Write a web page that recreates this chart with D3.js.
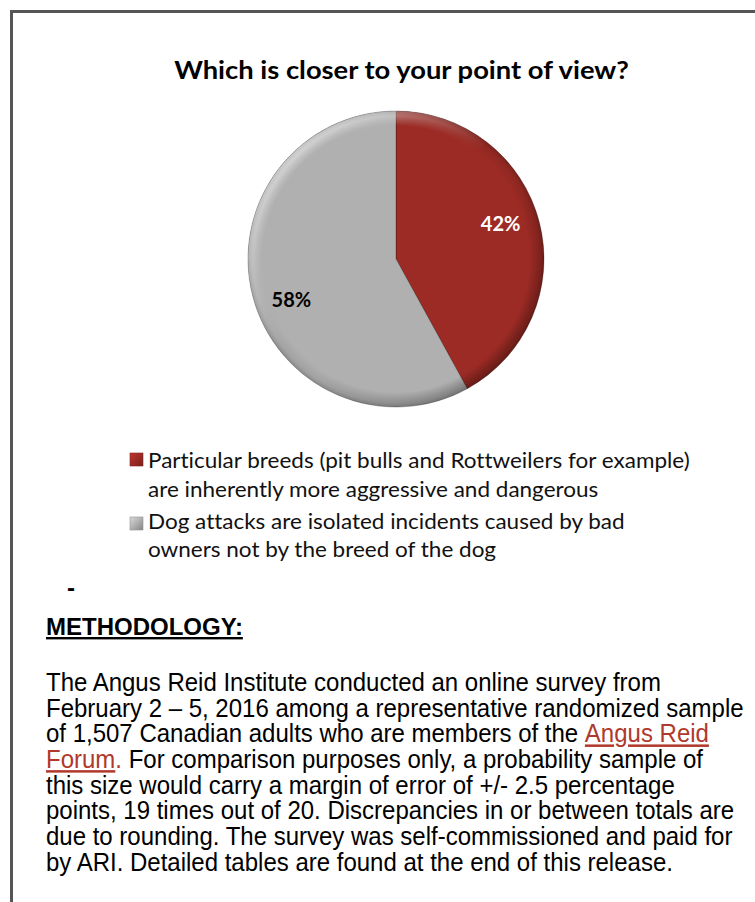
<!DOCTYPE html>
<html>
<head>
<meta charset="utf-8">
<script src="https://cdn.jsdelivr.net/npm/d3@7"></script>
<style>
  html, body { margin: 0; padding: 0; background: #fff; overflow: hidden; }
  svg { display: block; }
  text { font-variant-ligatures: none; font-feature-settings: "liga" 0, "clig" 0; }
</style>
</head>
<body>
<svg id="chart" width="755" height="902"></svg>
<script>
// ---- data ----
const title = "Which is closer to your point of view?";
const categories = [
  "Particular breeds (pit bulls and Rottweilers for example) are inherently more aggressive and dangerous",
  "Dog attacks are isolated incidents caused by bad owners not by the breed of the dog"
];
const legendLines = [
  ["Particular breeds (pit bulls and Rottweilers for example)", "are inherently more aggressive and dangerous"],
  ["Dog attacks are isolated incidents caused by bad", "owners not by the breed of the dog"]
];
const values = [42, 58];
const valueLabels = ["42%", "58%"];
const sliceColors = ["#9d2b25", "#b0b0b0"];
const labelColors = ["#ffffff", "#000000"];

const methodologyHeading = "METHODOLOGY:";
const methodologyLines = [
  [{ t: "The Angus Reid Institute conducted an online survey from" }],
  [{ t: "February 2 \u2013 5, 2016 among a representative randomized sample" }],
  [{ t: "of 1,507 Canadian adults who are members of the " }, { t: "Angus Reid", link: true }],
  [{ t: "Forum", link: true }, { t: ".", red: true }, { t: " For comparison purposes only, a probability sample of" }],
  [{ t: "this size would carry a margin of error of +/- 2.5 percentage" }],
  [{ t: "points, 19 times out of 20. Discrepancies in or between totals are" }],
  [{ t: "due to rounding. The survey was self-commissioned and paid for" }],
  [{ t: "by ARI. Detailed tables are found at the end of this release." }]
];

// ---- layout ----
const cx = 396, cy = 259, R = 148;
const labelRadius = 0.73;
const labelNudge = [-8, 14];
const calibriLike = "Lato, 'Open Sans', sans-serif";
const arialLike = "'Liberation Sans', Arial, sans-serif";
const linkColor = "#b0392c";

const svg = d3.select("#chart");
const defs = svg.append("defs");

// horizontal fit of a text element to a given width, around an anchor x
function applyScale(sel, s, ax) {
  sel.attr("transform", `translate(${ax},0) scale(${s},1) translate(${-ax},0)`);
}
function fitX(sel, width, ax) {
  const s = width / sel.node().getComputedTextLength();
  applyScale(sel, s, ax);
  return s;
}

// frame
svg.append("rect")
  .attr("x", 11.5).attr("y", 11.5)
  .attr("width", 900).attr("height", 1000)
  .attr("fill", "none").attr("stroke", "#555").attr("stroke-width", 3);

// title
const titleText = svg.append("text")
  .attr("x", 401.5).attr("y", 79)
  .attr("text-anchor", "middle")
  .attr("font-family", calibriLike).attr("font-weight", 700)
  .attr("font-size", 24).attr("fill", "#000")
  .text(title);
fitX(titleText, 455, 401.5);

// ---- pie ----
const rimGrad = defs.append("radialGradient")
  .attr("id", "rimShade").attr("gradientUnits", "userSpaceOnUse")
  .attr("cx", 0).attr("cy", 0).attr("r", R);
[[0, 0], [0.9, 0], [0.97, 0.08], [1, 0.22]].forEach(([o, a]) =>
  rimGrad.append("stop").attr("offset", o).attr("stop-color", "#000").attr("stop-opacity", a));

const lightGrad = defs.append("linearGradient")
  .attr("id", "rimLight").attr("gradientUnits", "userSpaceOnUse")
  .attr("x1", -R * 0.7).attr("y1", -R * 0.7).attr("x2", R * 0.7).attr("y2", R * 0.7);
lightGrad.append("stop").attr("offset", 0).attr("stop-color", "#fff").attr("stop-opacity", 0.5);
lightGrad.append("stop").attr("offset", 0.45).attr("stop-color", "#fff").attr("stop-opacity", 0);
lightGrad.append("stop").attr("offset", 0.6).attr("stop-color", "#000").attr("stop-opacity", 0);
lightGrad.append("stop").attr("offset", 1).attr("stop-color", "#000").attr("stop-opacity", 0.18);

const ringMaskGrad = defs.append("radialGradient")
  .attr("id", "ringMaskGrad").attr("gradientUnits", "userSpaceOnUse")
  .attr("cx", 0).attr("cy", 0).attr("r", R);
[[0, "#000"], [0.9, "#000"], [0.965, "#fff"], [1, "#fff"]].forEach(([o, c]) =>
  ringMaskGrad.append("stop").attr("offset", o).attr("stop-color", c));
defs.append("mask").attr("id", "ringMask")
  .attr("maskUnits", "userSpaceOnUse")
  .attr("x", -R - 5).attr("y", -R - 5).attr("width", 2 * R + 10).attr("height", 2 * R + 10)
  .append("circle").attr("r", R).attr("fill", "url(#ringMaskGrad)");

const pieGen = d3.pie().sort(null).value(d => d);
const arcs = pieGen(values);
const arc = d3.arc().innerRadius(0).outerRadius(R);
const labelArc = d3.arc().innerRadius(R * labelRadius).outerRadius(R * labelRadius);

const g = svg.append("g").attr("transform", `translate(${cx},${cy})`);
g.selectAll("path.slice")
  .data(arcs)
  .join("path")
  .attr("class", "slice")
  .attr("d", arc)
  .attr("fill", (d, i) => sliceColors[i])
  .attr("stroke", "rgba(0,0,0,0.25)")
  .attr("stroke-width", 1)
  .attr("stroke-linejoin", "round");

g.append("circle").attr("r", R).attr("fill", "url(#rimShade)");
g.append("circle").attr("r", R).attr("fill", "url(#rimLight)").attr("mask", "url(#ringMask)");

g.selectAll("text.val")
  .data(arcs)
  .join("text")
  .attr("class", "val")
  .attr("x", d => labelArc.centroid(d)[0])
  .attr("y", (d, i) => labelArc.centroid(d)[1] + labelNudge[i] + 7)
  .attr("text-anchor", "middle")
  .attr("font-family", calibriLike).attr("font-weight", 700)
  .attr("font-size", 20)
  .attr("fill", (d, i) => labelColors[i])
  .text((d, i) => valueLabels[i]);

// ---- legend ----
const legendX = 130, legendTextX = 148, sw = 13;
const legendBoxY = [453, 517];
const legendBaselines = [[468, 497], [529, 557]];

sliceColors.forEach((c, i) => {
  const lg = defs.append("linearGradient").attr("id", "lgBox" + i)
    .attr("x1", 0).attr("y1", 0).attr("x2", 1).attr("y2", 1);
  lg.append("stop").attr("offset", 0).attr("stop-color", d3.color(c).brighter(0.6));
  lg.append("stop").attr("offset", 0.5).attr("stop-color", c);
  lg.append("stop").attr("offset", 1).attr("stop-color", d3.color(c).darker(0.8));
});

const legend = svg.append("g").attr("class", "legend");
legend.selectAll("rect")
  .data(categories)
  .join("rect")
  .attr("x", legendX)
  .attr("y", (d, i) => legendBoxY[i])
  .attr("width", sw).attr("height", sw)
  .attr("fill", (d, i) => `url(#lgBox${i})`)
  .attr("stroke", (d, i) => d3.color(sliceColors[i]).darker(0.5))
  .attr("stroke-width", 0.6);

const legendTexts = [];
legendLines.forEach((lines, i) => {
  lines.forEach((line, j) => {
    const t = legend.append("text")
      .attr("x", legendTextX).attr("y", legendBaselines[i][j])
      .attr("font-family", calibriLike).attr("font-size", 21.5)
      .attr("fill", "#111")
      .text(line);
    legendTexts.push(t);
  });
});
const legendScale = 542 / legendTexts[0].node().getComputedTextLength();
legendTexts.forEach(t => applyScale(t, legendScale, legendTextX));

// ---- methodology ----
svg.append("text")
  .attr("x", 67).attr("y", 596)
  .attr("font-family", arialLike).attr("font-weight", 700)
  .attr("font-size", 24).attr("fill", "#000")
  .text("-");

svg.append("text")
  .attr("x", 46).attr("y", 635)
  .attr("font-family", arialLike).attr("font-weight", 700)
  .attr("font-size", 24).attr("fill", "#000")
  .attr("text-decoration", "underline")
  .text(methodologyHeading);

const paraX = 46, paraY0 = 691, paraStep = 25.7;
const paraTexts = [];
methodologyLines.forEach((parts, i) => {
  const t = svg.append("text")
    .attr("x", paraX).attr("y", paraY0 + i * paraStep)
    .attr("font-family", arialLike).attr("font-size", 25)
    .attr("fill", "#000")
    .style("white-space", "pre");
  parts.forEach(p => {
    const ts = t.append("tspan").text(p.t);
    if (p.link) ts.attr("fill", linkColor).attr("text-decoration", "underline");
    else if (p.red) ts.attr("fill", linkColor);
  });
  paraTexts.push(t);
});
const paraScale = 615 / paraTexts[0].node().getComputedTextLength();
paraTexts.forEach(t => applyScale(t, paraScale, paraX));
</script>
</body>
</html>
